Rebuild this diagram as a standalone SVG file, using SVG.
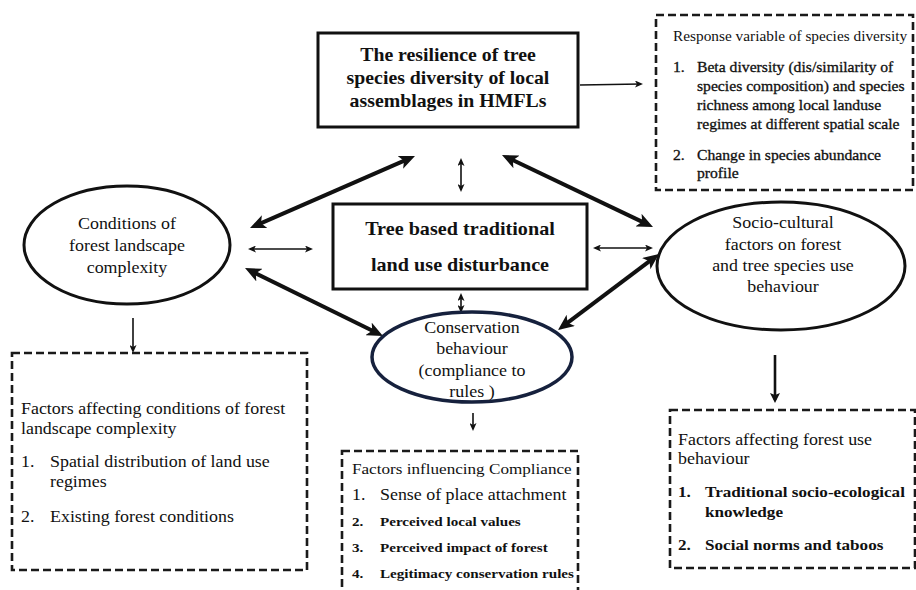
<svg xmlns="http://www.w3.org/2000/svg" width="916" height="590" viewBox="0 0 916 590">
  <defs>
    <style>
      text { font-family: "Liberation Serif", "Times New Roman", serif; fill: #111; }
      .title { font-weight: bold; font-size: 18px; text-anchor: middle; }
      .node { font-size: 16px; text-anchor: middle; }
      .box { font-size: 16px; }
      .small { font-size: 13.7px; }
      .semi { font-size: 14px; stroke: #111; stroke-width: 0.3; }
      .sb { font-size: 13.5px; font-weight: bold; }
      .bb { font-size: 15.3px; font-weight: bold; }
      .solid { fill: #fff; stroke: #111; stroke-width: 3; }
      .dash { fill: #fff; stroke: #1a1a1a; stroke-width: 2.6; stroke-dasharray: 8 4; }
      .thick { stroke: #111; stroke-width: 4; fill: none; }
      .thin { stroke: #111; stroke-width: 1.6; fill: none; }
    </style>
    <marker id="headBig" viewBox="0 0 16 14" refX="10" refY="7" markerWidth="16" markerHeight="14" markerUnits="userSpaceOnUse" orient="auto-start-reverse">
      <path d="M0,0 L16,7 L0,14 L4,7 z" fill="#111"/>
    </marker>
    <marker id="headSmall" viewBox="0 0 8 7" refX="6" refY="3.5" markerWidth="8" markerHeight="7" markerUnits="userSpaceOnUse" orient="auto-start-reverse">
      <path d="M0,0 L8,3.5 L0,7 L2,3.5 z" fill="#111"/>
    </marker>
    <marker id="headMid" viewBox="0 0 10 10" refX="7" refY="5" markerWidth="10" markerHeight="10" markerUnits="userSpaceOnUse" orient="auto">
      <path d="M0,0 L10,5 L0,10 L2,5 z" fill="#111"/>
    </marker>
  </defs>

  <rect width="916" height="590" fill="#fff"/>

  <!-- connectors -->
  <g id="connectors">
    <line class="thick" x1="409.5" y1="158.4" x2="255.5" y2="225.6" marker-start="url(#headBig)" marker-end="url(#headBig)"/>
    <line class="thick" x1="507.4" y1="157.6" x2="647.6" y2="224.4" marker-start="url(#headBig)" marker-end="url(#headBig)"/>
    <line class="thick" x1="250.4" y1="270.7" x2="377.6" y2="333.3" marker-start="url(#headBig)" marker-end="url(#headBig)"/>
    <line class="thick" x1="562.8" y1="326.4" x2="654.2" y2="257.6" marker-start="url(#headBig)" marker-end="url(#headBig)"/>
    <line class="thin" x1="461" y1="160" x2="461" y2="190" marker-start="url(#headSmall)" marker-end="url(#headSmall)"/>
    <line class="thin" x1="250" y1="249" x2="311" y2="249" marker-start="url(#headSmall)" marker-end="url(#headSmall)"/>
    <line class="thin" x1="595" y1="248" x2="651" y2="248" marker-start="url(#headSmall)" marker-end="url(#headSmall)"/>
    <line class="thin" x1="461" y1="295" x2="461" y2="311" marker-start="url(#headSmall)" marker-end="url(#headSmall)"/>
    <line class="thin" x1="580" y1="85" x2="641" y2="84" marker-end="url(#headSmall)"/>
    <line class="thin" x1="133" y1="318" x2="133" y2="351" marker-end="url(#headSmall)"/>
    <line class="thin" x1="473" y1="413" x2="473" y2="429" marker-end="url(#headSmall)"/>
    <line stroke="#111" stroke-width="2.6" x1="775" y1="355" x2="775" y2="400" marker-end="url(#headMid)"/>
  </g>

  <!-- resilience (outcome) box -->
  <g id="resilience">
    <rect class="solid" x="318" y="33" width="260" height="94"/>
    <g transform="matrix(1.1 0 0 1 -44.8 0)">
      <text class="title" x="448" y="61">The resilience of tree</text>
      <text class="title" x="448" y="84">species diversity of local</text>
      <text class="title" x="448" y="107">assemblages in HMFLs</text>
    </g>
  </g>

  <!-- response variables -->
  <g id="response">
    <rect class="dash" x="656" y="15" width="257" height="175"/>
    <g transform="matrix(1.12 0 0 1 -80.76 0)">
      <text class="small" x="673" y="41">Response variable of species diversity</text>
      <text class="semi" x="673" y="72">1.</text>
      <text class="semi" x="694.4" y="72">Beta diversity (dis/similarity of</text>
      <text class="semi" x="694.4" y="91">species composition) and species</text>
      <text class="semi" x="694.4" y="110">richness among local landuse</text>
      <text class="semi" x="694.4" y="129">regimes at different spatial scale</text>
      <text class="semi" x="673" y="160">2.</text>
      <text class="semi" x="694.4" y="160">Change in species abundance</text>
      <text class="semi" x="694.4" y="178">profile</text>
    </g>
  </g>

  <!-- central disturbance box -->
  <g id="disturbance">
    <rect class="solid" x="333" y="204" width="254" height="85" stroke-width="2.6"/>
    <g transform="matrix(1.12 0 0 1 -55.2 0)">
      <text class="title" x="460" y="235">Tree based traditional</text>
      <text class="title" x="460" y="271">land use disturbance</text>
    </g>
  </g>

  <!-- landscape complexity -->
  <g id="landscape">
    <ellipse class="solid" cx="127" cy="245" rx="103" ry="59"/>
    <g transform="matrix(1.12 0 0 1 -15.24 0)">
      <text class="node" x="127" y="229">Conditions of</text>
      <text class="node" x="127" y="251">forest landscape</text>
      <text class="node" x="127" y="273">complexity</text>
    </g>
  </g>

  <!-- socio-cultural factors -->
  <g id="sociocultural">
    <ellipse class="solid" cx="781" cy="266" rx="124" ry="64" stroke-width="2.6"/>
    <g transform="matrix(1.12 0 0 1 -93.96 0)">
      <text class="node" x="783" y="228">Socio-cultural</text>
      <text class="node" x="783" y="250">factors on forest</text>
      <text class="node" x="783" y="271">and tree species use</text>
      <text class="node" x="783" y="292">behaviour</text>
    </g>
  </g>

  <!-- conservation behaviour -->
  <g id="conservation">
    <ellipse cx="472" cy="357" rx="100" ry="45" fill="#fff" stroke="#16213d" stroke-width="3.5"/>
    <g transform="matrix(1.12 0 0 1 -56.64 0)">
      <text class="node" x="472" y="333">Conservation</text>
      <text class="node" x="472" y="354">behaviour</text>
      <text class="node" x="472" y="376">(compliance to</text>
      <text class="node" x="472" y="397">rules )</text>
    </g>
  </g>

  <!-- landscape factors -->
  <g id="landscape-factors">
    <rect class="dash" x="12" y="353" width="295" height="217"/>
    <g transform="matrix(1.12 0 0 1 -2.52 0)">
      <text class="box" x="21" y="414">Factors affecting conditions of forest</text>
      <text class="box" x="21" y="434">landscape complexity</text>
      <text class="box" x="21" y="467">1.</text>
      <text class="box" x="46.9" y="467">Spatial distribution of land use</text>
      <text class="box" x="46.9" y="487">regimes</text>
      <text class="box" x="21" y="522">2.</text>
      <text class="box" x="46.9" y="522">Existing forest conditions</text>
    </g>
  </g>

  <!-- compliance factors -->
  <g id="compliance-factors">
    <rect class="dash" x="342" y="451" width="236" height="150"/>
    <g transform="matrix(1.12 0 0 1 -42.24 0)">
      <text class="box" x="352" y="474" style="font-size:15.3px">Factors influencing Compliance</text>
      <text class="box" x="352" y="500">1.</text>
      <text class="box" x="377" y="500">Sense of place attachment</text>
      <text class="sb" x="352" y="526">2.</text>
      <text class="sb" x="377" y="526">Perceived local values</text>
      <text class="sb" x="352" y="552">3.</text>
      <text class="sb" x="377" y="552">Perceived impact of forest</text>
      <text class="sb" x="352" y="578">4.</text>
      <text class="sb" x="377" y="578">Legitimacy conservation rules</text>
    </g>
  </g>

  <!-- forest use factors -->
  <g id="use-factors">
    <rect class="dash" x="670" y="410" width="245" height="158"/>
    <g transform="matrix(1.12 0 0 1 -81.36 0)">
      <text class="box" x="678" y="445">Factors affecting forest use</text>
      <text class="box" x="678" y="464">behaviour</text>
      <text class="bb" x="678" y="497">1.</text>
      <text class="bb" x="702.1" y="497">Traditional socio-ecological</text>
      <text class="bb" x="702.1" y="517">knowledge</text>
      <text class="bb" x="678" y="550">2.</text>
      <text class="bb" x="702.1" y="550">Social norms and taboos</text>
    </g>
  </g>
</svg>
